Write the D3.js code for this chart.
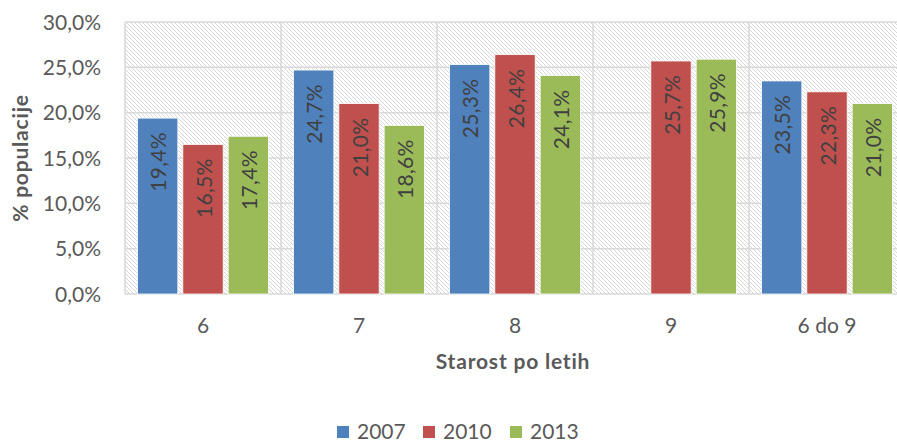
<!DOCTYPE html>
<html>
<head>
<meta charset="utf-8">
<script src="https://cdn.jsdelivr.net/npm/d3@7"></script>
<style>
  body { margin: 0; background: #fff; }
  svg { font-family: Lato, "Open Sans", sans-serif; }
</style>
</head>
<body>
<div id="chart"></div>
<script>
// data
var categories = ["6", "7", "8", "9", "6 do 9"];
var seriesNames = ["2007", "2010", "2013"];
var values2007 = [19.4, 24.7, 25.3, null, 23.5];
var values2010 = [16.5, 21.0, 26.4, 25.7, 22.3];
var values2013 = [17.4, 18.6, 24.1, 25.9, 21.0];
var yTicks = [0, 5, 10, 15, 20, 25, 30];
var colors = ["#4f81bd", "#c0504d", "#9bbb59"];

var width = 897, height = 445;
var plotLeft = 125, plotRight = 905, plotTop = 22, plotBottom = 294;

var svg = d3.select("#chart").append("svg")
    .attr("width", width)
    .attr("height", height);

// hatch pattern for the plot background
var defs = svg.append("defs");
var pat = defs.append("pattern")
    .attr("id", "hatch")
    .attr("patternUnits", "userSpaceOnUse")
    .attr("width", 4)
    .attr("height", 4);
pat.append("path")
    .attr("d", "M-1,-1 L5,5 M-1,3 L1,5 M3,-1 L5,1")
    .attr("stroke", "#d6d6d6")
    .attr("stroke-width", 1);

var x0 = d3.scaleBand().domain(categories).range([plotLeft, plotRight]);
var x1 = d3.scaleBand().domain(seriesNames)
    .range([12.5, x0.bandwidth() - 12.5])
    .paddingInner(0.11);
var y = d3.scaleLinear().domain([0, 30]).range([plotBottom, plotTop]);

svg.append("rect")
    .attr("x", plotLeft).attr("y", plotTop)
    .attr("width", plotRight - plotLeft).attr("height", plotBottom - plotTop)
    .attr("fill", "url(#hatch)");

// horizontal gridlines
svg.append("g").selectAll("line")
    .data(yTicks)
    .enter().append("line")
    .attr("x1", plotLeft).attr("x2", plotRight)
    .attr("y1", d => y(d)).attr("y2", d => y(d))
    .attr("stroke", "#d9d9d9")
    .attr("stroke-width", 1.5);

// vertical category separators
svg.append("g").selectAll("line")
    .data(categories)
    .enter().append("line")
    .attr("x1", d => x0(d)).attr("x2", d => x0(d))
    .attr("y1", plotTop).attr("y2", plotBottom)
    .attr("stroke", "#d9d9d9")
    .attr("stroke-width", 1.5);

// y tick labels
svg.append("g").selectAll("text")
    .data(yTicks)
    .enter().append("text")
    .attr("x", 101)
    .attr("y", d => y(d))
    .attr("dy", "0.36em")
    .attr("text-anchor", "end")
    .attr("font-size", 21)
    .attr("fill", "#595959")
    .text(d => d.toFixed(1).replace(".", ",") + "%");

// bars
var allSeries = [values2007, values2010, values2013];
var barData = [];
categories.forEach((c, i) => {
    seriesNames.forEach((s, j) => {
        if (allSeries[j][i] != null) {
            barData.push({ cat: c, series: s, idx: j, value: allSeries[j][i] });
        }
    });
});

svg.append("g").selectAll("rect")
    .data(barData)
    .enter().append("rect")
    .attr("x", d => x0(d.cat) + x1(d.series))
    .attr("y", d => y(d.value))
    .attr("width", x1.bandwidth())
    .attr("height", d => plotBottom - y(d.value))
    .attr("fill", d => colors[d.idx])
    .attr("stroke", "#fff")
    .attr("stroke-width", 0.8);

// value labels, rotated
svg.append("g").selectAll("text")
    .data(barData)
    .enter().append("text")
    .attr("transform", d => {
        var cx = x0(d.cat) + x1(d.series) + x1.bandwidth() / 2 + 1;
        var ty = y(d.value) + 14;
        return "translate(" + cx + "," + ty + ") rotate(-90)";
    })
    .attr("text-anchor", "end")
    .attr("dy", "0.36em")
    .attr("font-size", 21)
    .attr("letter-spacing", 0.3)
    .attr("fill", "#404040")
    .text(d => d.value.toFixed(1).replace(".", ",") + "%");

// category labels
svg.append("g").selectAll("text")
    .data(categories)
    .enter().append("text")
    .attr("x", d => x0(d) + x0.bandwidth() / 2)
    .attr("y", 333)
    .attr("text-anchor", "middle")
    .attr("font-size", 21)
    .attr("fill", "#595959")
    .text(d => d);

// axis titles
svg.append("text")
    .attr("x", 513).attr("y", 369)
    .attr("text-anchor", "middle")
    .attr("font-size", 21)
    .attr("font-weight", "bold")
    .attr("letter-spacing", 0.8)
    .attr("fill", "#595959")
    .text("Starost po letih");

svg.append("text")
    .attr("transform", "translate(28," + ((plotTop + plotBottom) / 2) + ") rotate(-90)")
    .attr("text-anchor", "middle")
    .attr("font-size", 21)
    .attr("font-weight", "bold")
    .attr("letter-spacing", 0.8)
    .attr("fill", "#595959")
    .text("% populacije");

// legend
var legendX = [337, 423, 510];
var legend = svg.append("g").selectAll("g")
    .data(seriesNames)
    .enter().append("g")
    .attr("transform", (d, i) => "translate(" + legendX[i] + ",426)");
legend.append("rect")
    .attr("width", 12).attr("height", 12)
    .attr("fill", (d, i) => colors[i]);
legend.append("text")
    .attr("x", 20).attr("y", 13)
    .attr("font-size", 21)
    .attr("fill", "#595959")
    .text(d => d);
</script>
</body>
</html>
